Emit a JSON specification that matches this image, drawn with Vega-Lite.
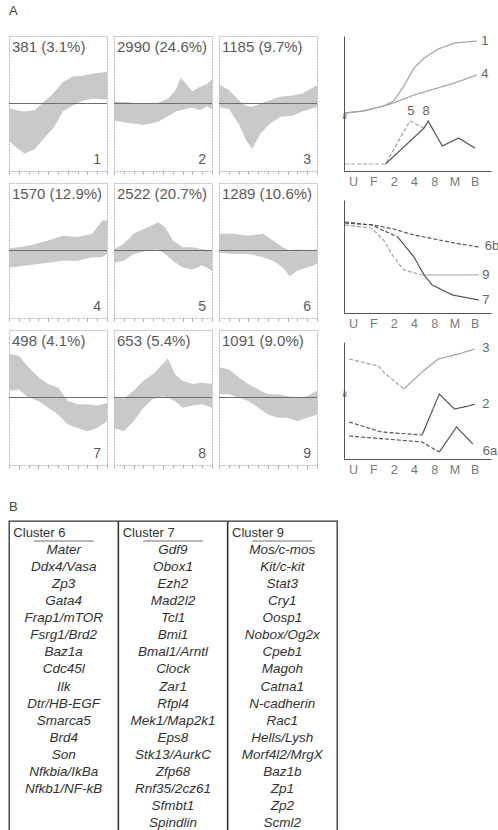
{
  "$schema": "https://vega.github.io/schema/vega-lite/v6.json",
  "background": "white",
  "padding": {"left": 8, "top": 5, "right": 0, "bottom": 0},
  "config": {
    "font": "Liberation Sans",
    "view": {"stroke": null},
    "header": {"labels": false, "title": null, "labelPadding": 0, "titlePadding": 0},
    "headerFacet": {"labels": false, "title": null, "labelPadding": 0, "titlePadding": 0},
    "title": {"fontSize": 13, "fontWeight": "normal", "color": "#444", "anchor": "start", "frame": "group"}
  },
  "datasets": {
    "bands": [
      {"cluster": 1, "kind": "label", "n": "381 (3.1%)"},
      {"cluster": 2, "kind": "label", "n": "2990 (24.6%)"},
      {"cluster": 3, "kind": "label", "n": "1185 (9.7%)"},
      {"cluster": 4, "kind": "label", "n": "1570 (12.9%)"},
      {"cluster": 5, "kind": "label", "n": "2522 (20.7%)"},
      {"cluster": 6, "kind": "label", "n": "1289 (10.6%)"},
      {"cluster": 7, "kind": "label", "n": "498 (4.1%)"},
      {"cluster": 8, "kind": "label", "n": "653 (5.4%)"},
      {"cluster": 9, "kind": "label", "n": "1091 (9.0%)"},
      {"cluster": 1, "kind": "band", "t": 0, "hi": -0.07, "lo": -0.56},
      {"cluster": 1, "kind": "band", "t": 8, "hi": -0.1, "lo": -0.66},
      {"cluster": 1, "kind": "band", "t": 16, "hi": -0.12, "lo": -0.74},
      {"cluster": 1, "kind": "band", "t": 26, "hi": -0.1, "lo": -0.68},
      {"cluster": 1, "kind": "band", "t": 36, "hi": 0.03, "lo": -0.51},
      {"cluster": 1, "kind": "band", "t": 45, "hi": 0.15, "lo": -0.37},
      {"cluster": 1, "kind": "band", "t": 55, "hi": 0.32, "lo": -0.12},
      {"cluster": 1, "kind": "band", "t": 65, "hi": 0.4, "lo": -0.03},
      {"cluster": 1, "kind": "band", "t": 75, "hi": 0.41, "lo": 0.04},
      {"cluster": 1, "kind": "band", "t": 85, "hi": 0.44, "lo": 0.07},
      {"cluster": 1, "kind": "band", "t": 100, "hi": 0.47, "lo": 0.06},
      {"cluster": 2, "kind": "band", "t": 0, "hi": 0.03, "lo": -0.25},
      {"cluster": 2, "kind": "band", "t": 15, "hi": 0.02, "lo": -0.29},
      {"cluster": 2, "kind": "band", "t": 30, "hi": -0.01, "lo": -0.32},
      {"cluster": 2, "kind": "band", "t": 45, "hi": 0.01, "lo": -0.27},
      {"cluster": 2, "kind": "band", "t": 55, "hi": 0.07, "lo": -0.19},
      {"cluster": 2, "kind": "band", "t": 63, "hi": 0.2, "lo": -0.12},
      {"cluster": 2, "kind": "band", "t": 68, "hi": 0.38, "lo": -0.1},
      {"cluster": 2, "kind": "band", "t": 73, "hi": 0.3, "lo": -0.08},
      {"cluster": 2, "kind": "band", "t": 80, "hi": 0.18, "lo": -0.06},
      {"cluster": 2, "kind": "band", "t": 88, "hi": 0.25, "lo": -0.1},
      {"cluster": 2, "kind": "band", "t": 95, "hi": 0.29, "lo": -0.04},
      {"cluster": 2, "kind": "band", "t": 100, "hi": 0.36, "lo": -0.08},
      {"cluster": 3, "kind": "band", "t": 0, "hi": 0.28, "lo": -0.05},
      {"cluster": 3, "kind": "band", "t": 10, "hi": 0.2, "lo": -0.08},
      {"cluster": 3, "kind": "band", "t": 20, "hi": 0.05, "lo": -0.3},
      {"cluster": 3, "kind": "band", "t": 28, "hi": -0.04, "lo": -0.55},
      {"cluster": 3, "kind": "band", "t": 34, "hi": -0.05, "lo": -0.67},
      {"cluster": 3, "kind": "band", "t": 42, "hi": 0.0, "lo": -0.45},
      {"cluster": 3, "kind": "band", "t": 52, "hi": 0.05, "lo": -0.3},
      {"cluster": 3, "kind": "band", "t": 62, "hi": 0.1, "lo": -0.2},
      {"cluster": 3, "kind": "band", "t": 75, "hi": 0.12, "lo": -0.18},
      {"cluster": 3, "kind": "band", "t": 85, "hi": 0.15, "lo": -0.12},
      {"cluster": 3, "kind": "band", "t": 100, "hi": 0.27, "lo": -0.05},
      {"cluster": 4, "kind": "band", "t": 0, "hi": 0.03, "lo": -0.25},
      {"cluster": 4, "kind": "band", "t": 20, "hi": 0.07, "lo": -0.22},
      {"cluster": 4, "kind": "band", "t": 40, "hi": 0.15, "lo": -0.18},
      {"cluster": 4, "kind": "band", "t": 55, "hi": 0.22, "lo": -0.15},
      {"cluster": 4, "kind": "band", "t": 70, "hi": 0.2, "lo": -0.15},
      {"cluster": 4, "kind": "band", "t": 85, "hi": 0.25, "lo": -0.1},
      {"cluster": 4, "kind": "band", "t": 95, "hi": 0.44, "lo": -0.1},
      {"cluster": 4, "kind": "band", "t": 100, "hi": 0.45, "lo": -0.05},
      {"cluster": 5, "kind": "band", "t": 0, "hi": 0.02, "lo": -0.18},
      {"cluster": 5, "kind": "band", "t": 10, "hi": 0.1, "lo": -0.15},
      {"cluster": 5, "kind": "band", "t": 20, "hi": 0.25, "lo": -0.05},
      {"cluster": 5, "kind": "band", "t": 35, "hi": 0.35, "lo": 0.0},
      {"cluster": 5, "kind": "band", "t": 45, "hi": 0.42, "lo": 0.02},
      {"cluster": 5, "kind": "band", "t": 52, "hi": 0.35, "lo": -0.05},
      {"cluster": 5, "kind": "band", "t": 60, "hi": 0.15, "lo": -0.15},
      {"cluster": 5, "kind": "band", "t": 70, "hi": 0.05, "lo": -0.25},
      {"cluster": 5, "kind": "band", "t": 80, "hi": 0.05, "lo": -0.28},
      {"cluster": 5, "kind": "band", "t": 90, "hi": 0.02, "lo": -0.22},
      {"cluster": 5, "kind": "band", "t": 100, "hi": 0.0, "lo": -0.3},
      {"cluster": 6, "kind": "band", "t": 0, "hi": 0.25, "lo": -0.03},
      {"cluster": 6, "kind": "band", "t": 15, "hi": 0.25, "lo": -0.05},
      {"cluster": 6, "kind": "band", "t": 30, "hi": 0.22, "lo": -0.05},
      {"cluster": 6, "kind": "band", "t": 45, "hi": 0.25, "lo": -0.1},
      {"cluster": 6, "kind": "band", "t": 55, "hi": 0.15, "lo": -0.15},
      {"cluster": 6, "kind": "band", "t": 65, "hi": 0.05, "lo": -0.25},
      {"cluster": 6, "kind": "band", "t": 72, "hi": 0.0, "lo": -0.38},
      {"cluster": 6, "kind": "band", "t": 80, "hi": 0.02, "lo": -0.3},
      {"cluster": 6, "kind": "band", "t": 90, "hi": 0.0, "lo": -0.25},
      {"cluster": 6, "kind": "band", "t": 100, "hi": 0.02, "lo": -0.2},
      {"cluster": 7, "kind": "band", "t": 0, "hi": 0.65, "lo": 0.1},
      {"cluster": 7, "kind": "band", "t": 10, "hi": 0.62, "lo": 0.12},
      {"cluster": 7, "kind": "band", "t": 20, "hi": 0.45, "lo": 0.0},
      {"cluster": 7, "kind": "band", "t": 30, "hi": 0.3, "lo": -0.05},
      {"cluster": 7, "kind": "band", "t": 40, "hi": 0.2, "lo": -0.15},
      {"cluster": 7, "kind": "band", "t": 50, "hi": 0.15, "lo": -0.25},
      {"cluster": 7, "kind": "band", "t": 60, "hi": -0.05, "lo": -0.4},
      {"cluster": 7, "kind": "band", "t": 70, "hi": -0.1, "lo": -0.45},
      {"cluster": 7, "kind": "band", "t": 80, "hi": -0.1, "lo": -0.5},
      {"cluster": 7, "kind": "band", "t": 90, "hi": -0.12, "lo": -0.45},
      {"cluster": 7, "kind": "band", "t": 100, "hi": -0.08, "lo": -0.35},
      {"cluster": 8, "kind": "band", "t": 0, "hi": 0.0, "lo": -0.45},
      {"cluster": 8, "kind": "band", "t": 10, "hi": -0.02, "lo": -0.5},
      {"cluster": 8, "kind": "band", "t": 20, "hi": 0.1, "lo": -0.35},
      {"cluster": 8, "kind": "band", "t": 30, "hi": 0.25, "lo": -0.15},
      {"cluster": 8, "kind": "band", "t": 40, "hi": 0.35, "lo": -0.02},
      {"cluster": 8, "kind": "band", "t": 50, "hi": 0.5, "lo": 0.02},
      {"cluster": 8, "kind": "band", "t": 55, "hi": 0.58, "lo": 0.0},
      {"cluster": 8, "kind": "band", "t": 62, "hi": 0.35, "lo": -0.05},
      {"cluster": 8, "kind": "band", "t": 70, "hi": 0.25, "lo": -0.15},
      {"cluster": 8, "kind": "band", "t": 80, "hi": 0.2, "lo": -0.12},
      {"cluster": 8, "kind": "band", "t": 90, "hi": 0.22, "lo": -0.1},
      {"cluster": 8, "kind": "band", "t": 100, "hi": 0.2, "lo": -0.15},
      {"cluster": 9, "kind": "band", "t": 0, "hi": 0.45, "lo": 0.05},
      {"cluster": 9, "kind": "band", "t": 10, "hi": 0.42, "lo": 0.05},
      {"cluster": 9, "kind": "band", "t": 20, "hi": 0.3, "lo": 0.0},
      {"cluster": 9, "kind": "band", "t": 30, "hi": 0.2, "lo": -0.05},
      {"cluster": 9, "kind": "band", "t": 40, "hi": 0.12, "lo": -0.15},
      {"cluster": 9, "kind": "band", "t": 50, "hi": 0.05, "lo": -0.25},
      {"cluster": 9, "kind": "band", "t": 60, "hi": 0.05, "lo": -0.3},
      {"cluster": 9, "kind": "band", "t": 70, "hi": 0.02, "lo": -0.3},
      {"cluster": 9, "kind": "band", "t": 80, "hi": 0.0, "lo": -0.35},
      {"cluster": 9, "kind": "band", "t": 90, "hi": 0.02, "lo": -0.3},
      {"cluster": 9, "kind": "band", "t": 100, "hi": 0.1, "lo": -0.25}
    ],
    "lines": [
      {"chart": 1, "seg": "1", "style": "solid", "tone": "light", "t": -0.4, "v": 58},
      {"chart": 1, "seg": "1", "style": "solid", "tone": "light", "t": 0.5, "v": 60},
      {"chart": 1, "seg": "1", "style": "solid", "tone": "light", "t": 1.5, "v": 65},
      {"chart": 1, "seg": "1", "style": "solid", "tone": "light", "t": 2, "v": 70},
      {"chart": 1, "seg": "1", "style": "solid", "tone": "light", "t": 2.5, "v": 85},
      {"chart": 1, "seg": "1", "style": "solid", "tone": "light", "t": 3, "v": 103},
      {"chart": 1, "seg": "1", "style": "solid", "tone": "light", "t": 3.5, "v": 113},
      {"chart": 1, "seg": "1", "style": "solid", "tone": "light", "t": 4.2, "v": 122},
      {"chart": 1, "seg": "1", "style": "solid", "tone": "light", "t": 5, "v": 128},
      {"chart": 1, "seg": "1", "style": "solid", "tone": "light", "t": 6.1, "v": 130},
      {"chart": 1, "seg": "4", "style": "solid", "tone": "light", "t": -0.4, "v": 58},
      {"chart": 1, "seg": "4", "style": "solid", "tone": "light", "t": 0.5, "v": 60},
      {"chart": 1, "seg": "4", "style": "solid", "tone": "light", "t": 1.5, "v": 65},
      {"chart": 1, "seg": "4", "style": "solid", "tone": "light", "t": 2, "v": 68},
      {"chart": 1, "seg": "4", "style": "solid", "tone": "light", "t": 3, "v": 76},
      {"chart": 1, "seg": "4", "style": "solid", "tone": "light", "t": 4, "v": 82},
      {"chart": 1, "seg": "4", "style": "solid", "tone": "light", "t": 5, "v": 88},
      {"chart": 1, "seg": "4", "style": "solid", "tone": "light", "t": 6.1, "v": 96},
      {"chart": 1, "seg": "5", "style": "dashed", "tone": "light", "t": -0.4, "v": 7},
      {"chart": 1, "seg": "5", "style": "dashed", "tone": "light", "t": 1.6, "v": 7},
      {"chart": 1, "seg": "5", "style": "dashed", "tone": "light", "t": 2.8, "v": 50},
      {"chart": 1, "seg": "5", "style": "dashed", "tone": "light", "t": 3.5, "v": 43},
      {"chart": 1, "seg": "8", "style": "solid", "tone": "dark", "t": 1.6, "v": 7},
      {"chart": 1, "seg": "8", "style": "solid", "tone": "dark", "t": 3.5, "v": 43},
      {"chart": 1, "seg": "8", "style": "solid", "tone": "dark", "t": 3.7, "v": 50},
      {"chart": 1, "seg": "8", "style": "solid", "tone": "dark", "t": 4.4, "v": 25},
      {"chart": 1, "seg": "8", "style": "solid", "tone": "dark", "t": 5.2, "v": 33},
      {"chart": 1, "seg": "8", "style": "solid", "tone": "dark", "t": 6, "v": 23},
      {"chart": 2, "seg": "6b", "style": "dashed", "tone": "dark", "t": -0.4, "v": 90},
      {"chart": 2, "seg": "6b", "style": "dashed", "tone": "dark", "t": 1, "v": 88},
      {"chart": 2, "seg": "6b", "style": "dashed", "tone": "dark", "t": 2, "v": 84},
      {"chart": 2, "seg": "6b", "style": "dashed", "tone": "dark", "t": 3, "v": 78},
      {"chart": 2, "seg": "6b", "style": "dashed", "tone": "dark", "t": 4, "v": 74},
      {"chart": 2, "seg": "6b", "style": "dashed", "tone": "dark", "t": 5, "v": 70},
      {"chart": 2, "seg": "6b", "style": "dashed", "tone": "dark", "t": 6.2, "v": 66},
      {"chart": 2, "seg": "9a", "style": "dashed", "tone": "light", "t": -0.4, "v": 88},
      {"chart": 2, "seg": "9a", "style": "dashed", "tone": "light", "t": 0.9, "v": 85},
      {"chart": 2, "seg": "9a", "style": "dashed", "tone": "light", "t": 1.5, "v": 73},
      {"chart": 2, "seg": "9a", "style": "dashed", "tone": "light", "t": 2.0, "v": 56},
      {"chart": 2, "seg": "9a", "style": "dashed", "tone": "light", "t": 2.5, "v": 43},
      {"chart": 2, "seg": "9a", "style": "dashed", "tone": "light", "t": 3.4, "v": 38},
      {"chart": 2, "seg": "9b", "style": "solid", "tone": "light", "t": 3.4, "v": 38},
      {"chart": 2, "seg": "9b", "style": "solid", "tone": "light", "t": 6.2, "v": 38},
      {"chart": 2, "seg": "7a", "style": "dashed", "tone": "dark", "t": -0.4, "v": 91},
      {"chart": 2, "seg": "7a", "style": "dashed", "tone": "dark", "t": 0.9, "v": 88},
      {"chart": 2, "seg": "7a", "style": "dashed", "tone": "dark", "t": 2.2, "v": 76},
      {"chart": 2, "seg": "7b", "style": "solid", "tone": "dark", "t": 2.2, "v": 76},
      {"chart": 2, "seg": "7b", "style": "solid", "tone": "dark", "t": 3.0, "v": 56},
      {"chart": 2, "seg": "7b", "style": "solid", "tone": "dark", "t": 3.5, "v": 38},
      {"chart": 2, "seg": "7b", "style": "solid", "tone": "dark", "t": 3.9, "v": 28},
      {"chart": 2, "seg": "7b", "style": "solid", "tone": "dark", "t": 4.9, "v": 18},
      {"chart": 2, "seg": "7b", "style": "solid", "tone": "dark", "t": 6.2, "v": 13},
      {"chart": 3, "seg": "3a", "style": "dashed", "tone": "light", "t": -0.2, "v": 100},
      {"chart": 3, "seg": "3a", "style": "dashed", "tone": "light", "t": 1.25, "v": 93},
      {"chart": 3, "seg": "3a", "style": "dashed", "tone": "light", "t": 1.5, "v": 87},
      {"chart": 3, "seg": "3a", "style": "dashed", "tone": "light", "t": 2.5, "v": 70},
      {"chart": 3, "seg": "3b", "style": "solid", "tone": "light", "t": 2.5, "v": 70},
      {"chart": 3, "seg": "3b", "style": "solid", "tone": "light", "t": 3.4, "v": 87},
      {"chart": 3, "seg": "3b", "style": "solid", "tone": "light", "t": 4.2, "v": 100},
      {"chart": 3, "seg": "3b", "style": "solid", "tone": "light", "t": 5.2, "v": 105},
      {"chart": 3, "seg": "3b", "style": "solid", "tone": "light", "t": 6.0, "v": 110},
      {"chart": 3, "seg": "2a", "style": "dashed", "tone": "dark", "t": -0.2, "v": 37},
      {"chart": 3, "seg": "2a", "style": "dashed", "tone": "dark", "t": 1.4, "v": 27},
      {"chart": 3, "seg": "2a", "style": "dashed", "tone": "dark", "t": 3.4, "v": 24},
      {"chart": 3, "seg": "2b", "style": "solid", "tone": "dark", "t": 3.4, "v": 24},
      {"chart": 3, "seg": "2b", "style": "solid", "tone": "dark", "t": 4.25, "v": 65},
      {"chart": 3, "seg": "2b", "style": "solid", "tone": "dark", "t": 5, "v": 50},
      {"chart": 3, "seg": "2b", "style": "solid", "tone": "dark", "t": 5.7, "v": 53},
      {"chart": 3, "seg": "2b", "style": "solid", "tone": "dark", "t": 6.0, "v": 55},
      {"chart": 3, "seg": "6aa", "style": "dashed", "tone": "dark", "t": -0.2, "v": 23},
      {"chart": 3, "seg": "6aa", "style": "dashed", "tone": "dark", "t": 3.4, "v": 17},
      {"chart": 3, "seg": "6aa", "style": "dashed", "tone": "dark", "t": 4.25, "v": 7},
      {"chart": 3, "seg": "6ab", "style": "solid", "tone": "dark", "t": 4.25, "v": 7},
      {"chart": 3, "seg": "6ab", "style": "solid", "tone": "dark", "t": 5.1, "v": 32},
      {"chart": 3, "seg": "6ab", "style": "solid", "tone": "dark", "t": 5.9, "v": 15}
    ],
    "linelabels": [
      {"chart": 1, "lab": "1", "t": 6.5, "v": 130},
      {"chart": 1, "lab": "4", "t": 6.5, "v": 97},
      {"chart": 1, "lab": "5", "t": 2.85, "v": 60},
      {"chart": 1, "lab": "8", "t": 3.6, "v": 60},
      {"chart": 2, "lab": "6b", "t": 6.85, "v": 67},
      {"chart": 2, "lab": "9", "t": 6.55, "v": 38},
      {"chart": 2, "lab": "7", "t": 6.55, "v": 13},
      {"chart": 3, "lab": "3", "t": 6.55, "v": 111},
      {"chart": 3, "lab": "2", "t": 6.55, "v": 55},
      {"chart": 3, "lab": "6a", "t": 6.75, "v": 8}
    ],
    "breaks": [
      {"chart": 1, "t": -0.45, "v": 55, "lab": "≈"},
      {"chart": 3, "t": -0.45, "v": 65, "lab": "≈"}
    ],
    "heads": [
      {"col": "Cluster 6", "row": 0, "name": "Cluster 6"},
      {"col": "Cluster 7", "row": 0, "name": "Cluster 7"},
      {"col": "Cluster 9", "row": 0, "name": "Cluster 9"}
    ],
    "genes": [
      {"col": "Cluster 6", "row": 1, "name": "Mater"},
      {"col": "Cluster 6", "row": 2, "name": "Ddx4/Vasa"},
      {"col": "Cluster 6", "row": 3, "name": "Zp3"},
      {"col": "Cluster 6", "row": 4, "name": "Gata4"},
      {"col": "Cluster 6", "row": 5, "name": "Frap1/mTOR"},
      {"col": "Cluster 6", "row": 6, "name": "Fsrg1/Brd2"},
      {"col": "Cluster 6", "row": 7, "name": "Baz1a"},
      {"col": "Cluster 6", "row": 8, "name": "Cdc45l"},
      {"col": "Cluster 6", "row": 9, "name": "Ilk"},
      {"col": "Cluster 6", "row": 10, "name": "Dtr/HB-EGF"},
      {"col": "Cluster 6", "row": 11, "name": "Smarca5"},
      {"col": "Cluster 6", "row": 12, "name": "Brd4"},
      {"col": "Cluster 6", "row": 13, "name": "Son"},
      {"col": "Cluster 6", "row": 14, "name": "Nfkbia/IkBa"},
      {"col": "Cluster 6", "row": 15, "name": "Nfkb1/NF-kB"},
      {"col": "Cluster 7", "row": 1, "name": "Gdf9"},
      {"col": "Cluster 7", "row": 2, "name": "Obox1"},
      {"col": "Cluster 7", "row": 3, "name": "Ezh2"},
      {"col": "Cluster 7", "row": 4, "name": "Mad2l2"},
      {"col": "Cluster 7", "row": 5, "name": "Tcl1"},
      {"col": "Cluster 7", "row": 6, "name": "Bmi1"},
      {"col": "Cluster 7", "row": 7, "name": "Bmal1/Arntl"},
      {"col": "Cluster 7", "row": 8, "name": "Clock"},
      {"col": "Cluster 7", "row": 9, "name": "Zar1"},
      {"col": "Cluster 7", "row": 10, "name": "Rfpl4"},
      {"col": "Cluster 7", "row": 11, "name": "Mek1/Map2k1"},
      {"col": "Cluster 7", "row": 12, "name": "Eps8"},
      {"col": "Cluster 7", "row": 13, "name": "Stk13/AurkC"},
      {"col": "Cluster 7", "row": 14, "name": "Zfp68"},
      {"col": "Cluster 7", "row": 15, "name": "Rnf35/2cz61"},
      {"col": "Cluster 7", "row": 16, "name": "Sfmbt1"},
      {"col": "Cluster 7", "row": 17, "name": "Spindlin"},
      {"col": "Cluster 9", "row": 1, "name": "Mos/c-mos"},
      {"col": "Cluster 9", "row": 2, "name": "Kit/c-kit"},
      {"col": "Cluster 9", "row": 3, "name": "Stat3"},
      {"col": "Cluster 9", "row": 4, "name": "Cry1"},
      {"col": "Cluster 9", "row": 5, "name": "Oosp1"},
      {"col": "Cluster 9", "row": 6, "name": "Nobox/Og2x"},
      {"col": "Cluster 9", "row": 7, "name": "Cpeb1"},
      {"col": "Cluster 9", "row": 8, "name": "Magoh"},
      {"col": "Cluster 9", "row": 9, "name": "Catna1"},
      {"col": "Cluster 9", "row": 10, "name": "N-cadherin"},
      {"col": "Cluster 9", "row": 11, "name": "Rac1"},
      {"col": "Cluster 9", "row": 12, "name": "Hells/Lysh"},
      {"col": "Cluster 9", "row": 13, "name": "Morf4l2/MrgX"},
      {"col": "Cluster 9", "row": 14, "name": "Baz1b"},
      {"col": "Cluster 9", "row": 15, "name": "Zp1"},
      {"col": "Cluster 9", "row": 16, "name": "Zp2"},
      {"col": "Cluster 9", "row": 17, "name": "Scml2"}
    ]
  },
  "spacing": 24,
  "resolve": {"scale": {"x": "independent", "y": "independent"}},
  "vconcat": [
    {
      "title": {"text": "A", "offset": 17},
      "spacing": 21,
      "resolve": {"scale": {"x": "independent", "y": "independent"}},
      "hconcat": [
        {
          "data": {"name": "bands"},
          "facet": {"field": "cluster", "type": "ordinal", "title": null, "header": {"labels": false, "title": null, "labelPadding": 0, "labelFontSize": 0, "labelExpr": "''"}},
          "columns": 3,
          "spacing": {"row": 7, "column": 5},
          "resolve": {"axis": {"x": "independent"}},
          "spec": {
            "width": 98,
            "height": 135,
            "view": {"stroke": "#b8b8b8", "strokeDash": [2, 1]},
            "layer": [
              {
                "transform": [{"filter": "datum.kind == 'band'"}],
                "mark": {"type": "area", "color": "#c6c6c6", "opacity": 0.95, "interpolate": "linear"},
                "encoding": {
                  "x": {"field": "t", "type": "quantitative", "scale": {"domain": [0, 100], "nice": false},
                        "axis": {"labels": false, "ticks": true, "tickSize": 3, "tickCount": 10, "tickColor": "#aaa", "domain": false, "grid": false, "title": null}},
                  "y": {"field": "lo", "type": "quantitative", "scale": {"domain": [-1, 1], "nice": false}, "axis": null},
                  "y2": {"field": "hi"}
                }
              },
              {
                "transform": [{"filter": "datum.kind == 'label'"}],
                "mark": {"type": "rule", "color": "#6e6e6e", "strokeWidth": 1},
                "encoding": {"y": {"datum": 0}}
              },
              {
                "transform": [{"filter": "datum.kind == 'label'"}],
                "mark": {"type": "text", "align": "left", "baseline": "top", "fontSize": 15, "color": "#5a5a5a"},
                "encoding": {"x": {"value": 3}, "y": {"value": 4}, "text": {"field": "n"}}
              },
              {
                "transform": [{"filter": "datum.kind == 'label'"}],
                "mark": {"type": "text", "align": "right", "baseline": "bottom", "fontSize": 14, "color": "#5a5a5a"},
                "encoding": {"x": {"value": 92}, "y": {"value": 131}, "text": {"field": "cluster"}}
              }
            ]
          }
        },
        {
          "spacing": 12,
          "resolve": {"scale": {"x": "independent", "y": "independent"}},
          "vconcat": [
            {
              "width": 147, "height": 135,
              "encoding": {
                "x": {"field": "t", "type": "quantitative", "scale": {"domain": [-0.45, 6.8], "nice": false},
                      "axis": {"values": [0, 1, 2, 3, 4, 5, 6], "labelExpr": "['U','F','2','4','8','M','B'][datum.value]", "labelOverlap": false, "ticks": false, "grid": false, "title": null, "domainColor": "#555", "labelColor": "#777", "labelFontSize": 12.5, "labelPadding": 4}},
                "y": {"field": "v", "type": "quantitative", "scale": {"domain": [0, 135], "nice": false},
                      "axis": {"labels": false, "ticks": false, "grid": false, "title": null, "domainColor": "#555"}}
              },
              "layer": [
                {
                  "data": {"name": "lines"},
                  "transform": [{"filter": "datum.chart == 1"}],
                  "mark": {"type": "line", "strokeWidth": 1.2},
                  "encoding": {
                    "detail": {"field": "seg"},
                    "strokeDash": {"field": "style", "type": "nominal", "scale": {"domain": ["solid", "dashed"], "range": [[1, 0], [4, 2]]}, "legend": null},
                    "color": {"field": "tone", "type": "nominal", "scale": {"domain": ["light", "dark"], "range": ["#a2a2a2", "#555555"]}, "legend": null}
                  }
                },
                {
                  "data": {"name": "linelabels"},
                  "transform": [{"filter": "datum.chart == 1"}],
                  "mark": {"type": "text", "align": "center", "baseline": "middle", "fontSize": 13, "color": "#666"},
                  "encoding": {"text": {"field": "lab"}}
                },
                {
                  "data": {"name": "breaks"},
                  "transform": [{"filter": "datum.chart == 1"}],
                  "mark": {"type": "text", "align": "center", "baseline": "middle", "fontSize": 11, "angle": 90, "color": "#555"},
                  "encoding": {"text": {"field": "lab"}}
                }
              ]
            },
            {
              "width": 147, "height": 113,
              "encoding": {
                "x": {"field": "t", "type": "quantitative", "scale": {"domain": [-0.45, 6.8], "nice": false},
                      "axis": {"values": [0, 1, 2, 3, 4, 5, 6], "labelExpr": "['U','F','2','4','8','M','B'][datum.value]", "labelOverlap": false, "ticks": false, "grid": false, "title": null, "domainColor": "#555", "labelColor": "#777", "labelFontSize": 12.5, "labelPadding": 4}},
                "y": {"field": "v", "type": "quantitative", "scale": {"domain": [0, 113], "nice": false},
                      "axis": {"labels": false, "ticks": false, "grid": false, "title": null, "domainColor": "#555"}}
              },
              "layer": [
                {
                  "data": {"name": "lines"},
                  "transform": [{"filter": "datum.chart == 2"}],
                  "mark": {"type": "line", "strokeWidth": 1.2},
                  "encoding": {
                    "detail": {"field": "seg"},
                    "strokeDash": {"field": "style", "type": "nominal", "scale": {"domain": ["solid", "dashed"], "range": [[1, 0], [4, 2]]}, "legend": null},
                    "color": {"field": "tone", "type": "nominal", "scale": {"domain": ["light", "dark"], "range": ["#a2a2a2", "#555555"]}, "legend": null}
                  }
                },
                {
                  "data": {"name": "linelabels"},
                  "transform": [{"filter": "datum.chart == 2"}],
                  "mark": {"type": "text", "align": "center", "baseline": "middle", "fontSize": 13, "color": "#666"},
                  "encoding": {"text": {"field": "lab"}}
                }
              ]
            },
            {
              "width": 147, "height": 117,
              "encoding": {
                "x": {"field": "t", "type": "quantitative", "scale": {"domain": [-0.45, 6.8], "nice": false},
                      "axis": {"values": [0, 1, 2, 3, 4, 5, 6], "labelExpr": "['U','F','2','4','8','M','B'][datum.value]", "labelOverlap": false, "ticks": false, "grid": false, "title": null, "domainColor": "#555", "labelColor": "#777", "labelFontSize": 12.5, "labelPadding": 4}},
                "y": {"field": "v", "type": "quantitative", "scale": {"domain": [0, 117], "nice": false},
                      "axis": {"labels": false, "ticks": false, "grid": false, "title": null, "domainColor": "#555"}}
              },
              "layer": [
                {
                  "data": {"name": "lines"},
                  "transform": [{"filter": "datum.chart == 3"}],
                  "mark": {"type": "line", "strokeWidth": 1.2},
                  "encoding": {
                    "detail": {"field": "seg"},
                    "strokeDash": {"field": "style", "type": "nominal", "scale": {"domain": ["solid", "dashed"], "range": [[1, 0], [4, 2]]}, "legend": null},
                    "color": {"field": "tone", "type": "nominal", "scale": {"domain": ["light", "dark"], "range": ["#a2a2a2", "#555555"]}, "legend": null}
                  }
                },
                {
                  "data": {"name": "linelabels"},
                  "transform": [{"filter": "datum.chart == 3"}],
                  "mark": {"type": "text", "align": "center", "baseline": "middle", "fontSize": 13, "color": "#666"},
                  "encoding": {"text": {"field": "lab"}}
                },
                {
                  "data": {"name": "breaks"},
                  "transform": [{"filter": "datum.chart == 3"}],
                  "mark": {"type": "text", "align": "center", "baseline": "middle", "fontSize": 11, "angle": 90, "color": "#555"},
                  "encoding": {"text": {"field": "lab"}}
                }
              ]
            }
          ]
        }
      ]
    },
    {
      "title": {"text": "B", "offset": 6},
      "width": 328,
      "height": 315,
      "view": {"stroke": "#333", "strokeWidth": 1.3},
      "layer": [
        {
          "data": {"name": "genes"},
          "mark": {"type": "text", "fontStyle": "italic", "fontSize": 13.5, "color": "#333", "baseline": "middle"},
          "encoding": {
            "x": {"field": "col", "type": "nominal", "scale": {"domain": ["Cluster 6", "Cluster 7", "Cluster 9"], "paddingInner": 0, "paddingOuter": 0}, "axis": null},
            "y": {"field": "row", "type": "quantitative", "scale": {"domain": [-0.7, 17.76], "reverse": true, "nice": false, "zero": false}, "axis": null},
            "text": {"field": "name"}
          }
        },
        {
          "data": {"name": "heads"},
          "mark": {"type": "text", "align": "left", "fontSize": 13, "color": "#333", "baseline": "middle"},
          "encoding": {
            "x": {"field": "col", "type": "nominal", "bandPosition": 0.04},
            "y": {"field": "row", "type": "quantitative"},
            "text": {"field": "name"}
          }
        },
        {
          "data": {"name": "heads"},
          "mark": {"type": "tick", "thickness": 1, "size": 60, "yOffset": 8, "color": "#333"},
          "encoding": {
            "x": {"field": "col", "type": "nominal", "bandPosition": 0.32},
            "y": {"field": "row", "type": "quantitative"}
          }
        },
        {
          "data": {"name": "heads"},
          "transform": [{"filter": "datum.col != 'Cluster 6'"}],
          "mark": {"type": "rule", "color": "#333", "strokeWidth": 1.6},
          "encoding": {
            "x": {"field": "col", "type": "nominal", "bandPosition": 0}
          }
        }
      ]
    }
  ]
}
